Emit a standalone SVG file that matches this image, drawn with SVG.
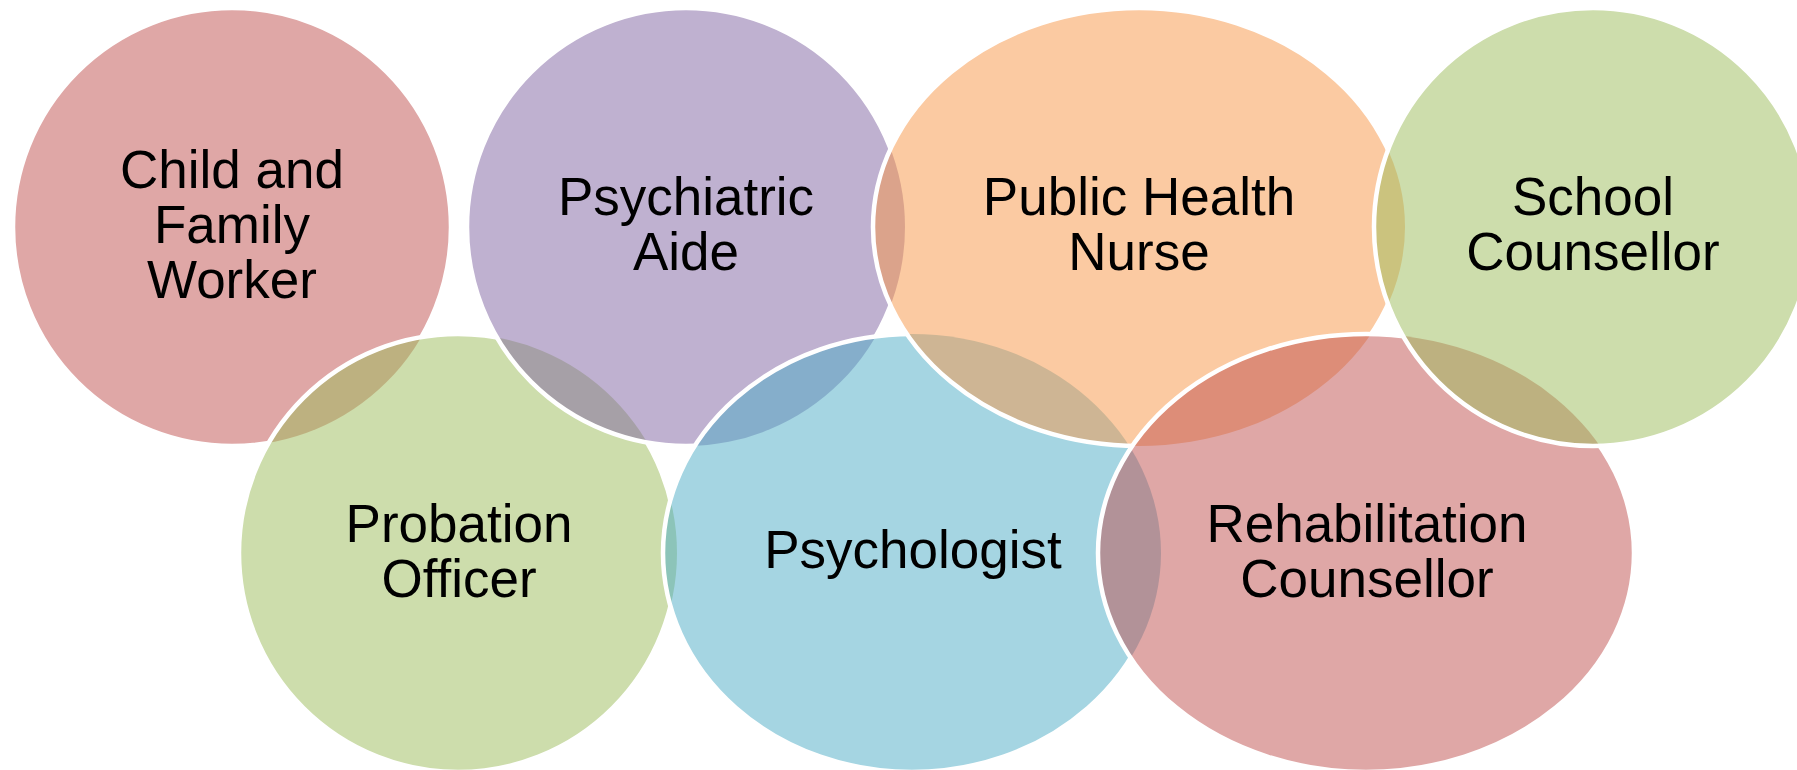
<svg xmlns="http://www.w3.org/2000/svg" width="1797" height="770" viewBox="0 0 1797 770">
<style>
.fill{fill-opacity:0.5;stroke:none}
.edge{fill:none;stroke:#FFFFFF;stroke-width:4.5}
.lbl{font-family:"Liberation Sans",Arial,sans-serif;font-size:53px;fill:#000000;text-anchor:middle}
</style>
<defs>
<mask id="mChild" maskUnits="userSpaceOnUse" x="0" y="0" width="1797" height="770">
<rect x="0" y="0" width="1797" height="770" fill="#fff"/>
<ellipse cx="458" cy="553" rx="219" ry="219" fill="#000"/>
</mask>
<mask id="mProb" maskUnits="userSpaceOnUse" x="0" y="0" width="1797" height="770">
<rect x="0" y="0" width="1797" height="770" fill="#fff"/>
<ellipse cx="686" cy="227" rx="219" ry="219" fill="#000"/>
<ellipse cx="912" cy="553" rx="249" ry="219" fill="#000"/>
</mask>
<mask id="mPsyA" maskUnits="userSpaceOnUse" x="0" y="0" width="1797" height="770">
<rect x="0" y="0" width="1797" height="770" fill="#fff"/>
<ellipse cx="912" cy="553" rx="249" ry="219" fill="#000"/>
<ellipse cx="1139" cy="227" rx="266" ry="219" fill="#000"/>
</mask>
<mask id="mPsyL" maskUnits="userSpaceOnUse" x="0" y="0" width="1797" height="770">
<rect x="0" y="0" width="1797" height="770" fill="#fff"/>
<ellipse cx="1139" cy="227" rx="266" ry="219" fill="#000"/>
<ellipse cx="1366" cy="553" rx="268" ry="219" fill="#000"/>
</mask>
<mask id="mPub" maskUnits="userSpaceOnUse" x="0" y="0" width="1797" height="770">
<rect x="0" y="0" width="1797" height="770" fill="#fff"/>
<ellipse cx="1366" cy="553" rx="268" ry="219" fill="#000"/>
<ellipse cx="1593" cy="227" rx="219" ry="219" fill="#000"/>
</mask>
<mask id="mRehab" maskUnits="userSpaceOnUse" x="0" y="0" width="1797" height="770">
<rect x="0" y="0" width="1797" height="770" fill="#fff"/>
<ellipse cx="1593" cy="227" rx="219" ry="219" fill="#000"/>
</mask>
</defs>
<rect x="0" y="0" width="1797" height="770" fill="#FFFFFF"/>
<g id="connectors"/>
<g id="node-child">
<ellipse class="fill" cx="232" cy="227" rx="219" ry="219" fill="#C0504D"/>
<ellipse class="edge" cx="232" cy="227" rx="219" ry="219" mask="url(#mChild)"/>
<text class="lbl" x="232" y="188">Child and</text>
<text class="lbl" x="232" y="243">Family</text>
<text class="lbl" x="232" y="298">Worker</text>
</g>
<g id="node-probation">
<ellipse class="fill" cx="458" cy="553" rx="219" ry="219" fill="#9BBB59"/>
<ellipse class="edge" cx="458" cy="553" rx="219" ry="219" mask="url(#mProb)"/>
<text class="lbl" x="459" y="542">Probation</text>
<text class="lbl" x="459" y="597">Officer</text>
</g>
<g id="node-psychiatric">
<ellipse class="fill" cx="686" cy="227" rx="219" ry="219" fill="#8064A2"/>
<ellipse class="edge" cx="686" cy="227" rx="219" ry="219" mask="url(#mPsyA)"/>
<text class="lbl" x="686" y="215">Psychiatric</text>
<text class="lbl" x="686" y="270">Aide</text>
</g>
<g id="node-psychologist">
<ellipse class="fill" cx="912" cy="553" rx="249" ry="219" fill="#4BACC6"/>
<ellipse class="edge" cx="912" cy="553" rx="249" ry="219" mask="url(#mPsyL)"/>
<text class="lbl" x="913" y="568">Psychologist</text>
</g>
<g id="node-publichealth">
<ellipse class="fill" cx="1139" cy="227" rx="266" ry="219" fill="#F79646"/>
<ellipse class="edge" cx="1139" cy="227" rx="266" ry="219" mask="url(#mPub)"/>
<text class="lbl" x="1139" y="215">Public Health</text>
<text class="lbl" x="1139" y="270">Nurse</text>
</g>
<g id="node-rehab">
<ellipse class="fill" cx="1366" cy="553" rx="268" ry="219" fill="#C0504D"/>
<ellipse class="edge" cx="1366" cy="553" rx="268" ry="219" mask="url(#mRehab)"/>
<text class="lbl" x="1367" y="542">Rehabilitation</text>
<text class="lbl" x="1367" y="597">Counsellor</text>
</g>
<g id="node-school">
<ellipse class="fill" cx="1593" cy="227" rx="219" ry="219" fill="#9BBB59"/>
<ellipse class="edge" cx="1593" cy="227" rx="219" ry="219"/>
<text class="lbl" x="1593" y="215">School</text>
<text class="lbl" x="1593" y="270">Counsellor</text>
</g>
</svg>
